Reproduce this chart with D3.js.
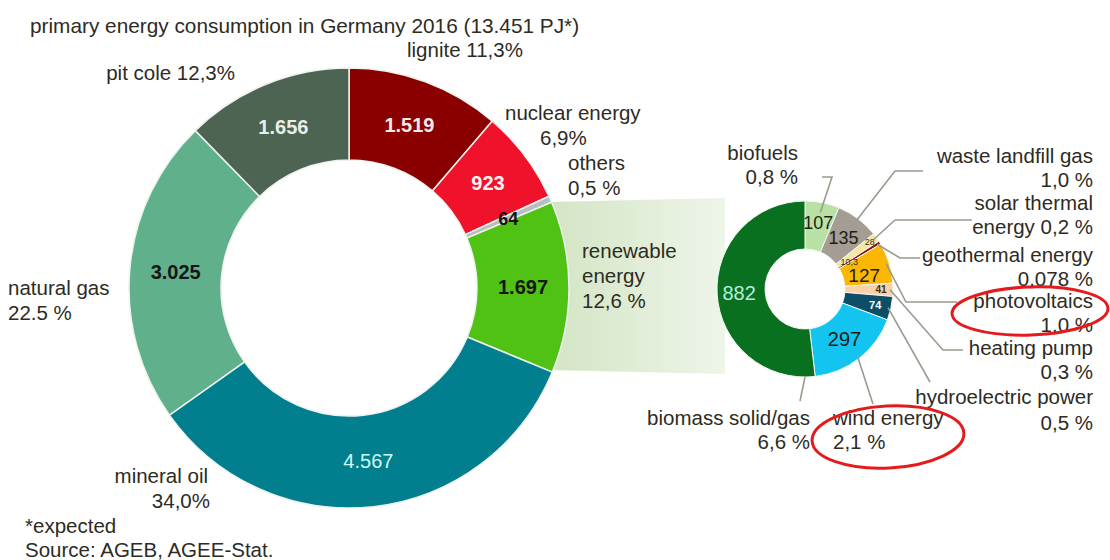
<!DOCTYPE html>
<html>
<head>
<meta charset="utf-8">
<script src="https://cdn.jsdelivr.net/npm/d3@7"></script>
<style>
  body { margin: 0; background: #fff; }
  svg { display: block; font-family: "Liberation Sans", Arial, sans-serif; }
</style>
</head>
<body>
<svg id="chart" width="1110" height="560"></svg>
<script>
// primary energy 2016, PJ
const mainNames  = ["lignite", "nuclear energy", "others", "renewable energy", "mineral oil", "natural gas", "pit cole"];
const mainValues = [1519, 923, 64, 1697, 4567, 3025, 1656];
const mainShares = ["11,3%", "6,9%", "0,5 %", "12,6 %", "34,0%", "22.5 %", "12,3%"];
const mainColors = ["#8a0000", "#f0122b", "#b6bebe", "#4fc214", "#017f8f", "#61b08c", "#4c6451"];

// renewables split, PJ
const renNames  = ["biofuels", "waste landfill gas", "solar thermal energy", "geothermal energy", "photovoltaics",
                   "heating pump", "hydroelectric power", "wind energy", "biomass solid/gas"];
const renValues = [107, 135, 28, 10.3, 127, 41, 74, 297, 882];
const renShares = ["0,8 %", "1,0 %", "0,2 %", "0,078 %", "1,0 %", "0,3 %", "0,5 %", "2,1 %", "6,6 %"];
const renColors = ["#b8e2a4", "#a49d93", "#f5e6a4", "#8b1212", "#fbb704", "#f9d1a8", "#0b4e66", "#13c3f0", "#08701f"];

const de = d3.formatLocale({decimal: ",", thousands: ".", grouping: [3], currency: ["", "€"]});
const fmtInt = de.format(",d");
const fmtNum = v => Number.isInteger(v) ? fmtInt(v) : de.format(",.1f")(v);

const svg = d3.select("#chart");
const ink = "#2e2b1f";
const labelSize = "20.5px";

// band that links the renewable slice to the small donut
const grad = svg.append("defs").append("linearGradient")
  .attr("id", "band").attr("x1", 0).attr("x2", 1).attr("y1", 0).attr("y2", 0);
grad.append("stop").attr("offset", "0%").attr("stop-color", "#d3e5c4");
grad.append("stop").attr("offset", "100%").attr("stop-color", "#eef5e9");
svg.append("path")
  .attr("d", "M548,202 L725,198 L725,374 L548,370 Z")
  .attr("fill", "url(#band)");

// ---------- main donut ----------
const M = {cx: 349, cy: 288, r0: 128, r1: 220};
const mainPie = d3.pie().sort(null).value(d => d.value);
const mainData = mainPie(mainNames.map((n, i) => ({name: n, value: mainValues[i], share: mainShares[i], color: mainColors[i]})));
const mainArc = d3.arc().innerRadius(M.r0).outerRadius(M.r1);
const mainMid = d3.arc().innerRadius((M.r0 + M.r1) / 2).outerRadius((M.r0 + M.r1) / 2);

const gm = svg.append("g").attr("transform", `translate(${M.cx},${M.cy})`);
gm.selectAll("path").data(mainData).enter().append("path")
  .attr("d", mainArc)
  .attr("fill", d => d.data.color)
  .attr("stroke", "#eef3ee").attr("stroke-width", 1.5);

const mainNumStyle = {
  "lignite": {fill: "#f3e9e9", weight: "bold"},
  "nuclear energy": {fill: "#fff2f2", weight: "bold"},
  "others": {fill: "#151515", weight: "bold", size: 18},
  "renewable energy": {fill: "#151515", weight: "bold"},
  "mineral oil": {fill: "#cdfbf3", weight: "normal"},
  "natural gas": {fill: "#151515", weight: "bold"},
  "pit cole": {fill: "#eaeee8", weight: "bold"}
};
gm.selectAll("text.num").data(mainData).enter().append("text")
  .attr("class", "num")
  .attr("transform", d => {
    const [x, y] = mainMid.centroid(d);
    return `translate(${x},${y + 7})`;
  })
  .attr("text-anchor", "middle")
  .style("font-size", d => (mainNumStyle[d.data.name].size || 20) + "px")
  .style("font-weight", d => mainNumStyle[d.data.name].weight)
  .attr("fill", d => mainNumStyle[d.data.name].fill)
  .text(d => fmtInt(d.data.value));

// outside labels of the main donut
const mainLabelPos = {
  "lignite":          {x: 407, y: 57,  anchor: "start", lines: d => [d.name + " " + d.share]},
  "nuclear energy":   {x: 505, y: 120, anchor: "start", lines: d => [d.name, d.share], indent: [0, 35]},
  "others":           {x: 568, y: 170, anchor: "start", lines: d => [d.name, d.share]},
  "renewable energy": {x: 582, y: 258, anchor: "start", lines: d => ["renewable", "energy", d.share]},
  "mineral oil":      {x: 208, y: 483, anchor: "end",   lines: d => [d.name, d.share], indent: [0, 2]},
  "natural gas":      {x: 8,   y: 295, anchor: "start", lines: d => [d.name, d.share]},
  "pit cole":         {x: 235, y: 80,  anchor: "end",   lines: d => [d.name + " " + d.share]}
};

function drawLabel(sel, pos, datum, lh) {
  const t = sel.append("text")
    .attr("text-anchor", pos.anchor)
    .attr("fill", ink)
    .style("font-size", labelSize);
  pos.lines(datum).forEach((line, k) => {
    t.append("tspan")
      .attr("x", pos.x + (pos.indent ? pos.indent[k] : 0))
      .attr("y", pos.y + k * lh)
      .text(line);
  });
}
mainData.forEach(d => drawLabel(svg, mainLabelPos[d.data.name], d.data, 25));

// ---------- renewables donut ----------
const R = {cx: 805, cy: 289, r0: 40, r1: 88};
const renPie = d3.pie().sort(null).value(d => d.value);
const renData = renPie(renNames.map((n, i) => ({name: n, value: renValues[i], share: renShares[i], color: renColors[i]})));
const renArc = d3.arc().innerRadius(R.r0).outerRadius(R.r1);

const gr = svg.append("g").attr("transform", `translate(${R.cx},${R.cy})`);
gr.selectAll("path").data(renData).enter().append("path")
  .attr("d", renArc)
  .attr("fill", d => d.data.color)
  .attr("stroke", "#f4f7f2").attr("stroke-width", 1);

// number labels: radius and font per slice
const renNumStyle = {
  "biofuels":             {r: 68, size: 18, fill: "#1e1e14"},
  "waste landfill gas":   {r: 64, size: 18, fill: "#1e1e14"},
  "solar thermal energy": {r: 80, size: 9,  fill: "#3a3020"},
  "geothermal energy":    {r: 52, size: 9,  fill: "#3a3020"},
  "photovoltaics":        {r: 62, size: 19, fill: "#1e1e14", dy: 5},
  "heating pump":         {r: 76, size: 10, fill: "#3a3020", weight: "bold"},
  "hydroelectric power":  {r: 72, size: 11, fill: "#ffffff", weight: "bold"},
  "wind energy":          {r: 64, size: 20, fill: "#1e1e14"},
  "biomass solid/gas":    {r: 66, size: 20, fill: "#b4eede"}
};
gr.selectAll("text.num").data(renData).enter().append("text")
  .attr("class", "num")
  .attr("transform", d => {
    const s = renNumStyle[d.data.name];
    const a = (d.startAngle + d.endAngle) / 2;
    return `translate(${Math.sin(a) * s.r},${-Math.cos(a) * s.r + s.size * 0.35 + (s.dy || 0)})`;
  })
  .attr("text-anchor", "middle")
  .style("font-size", d => renNumStyle[d.data.name].size + "px")
  .style("font-weight", d => renNumStyle[d.data.name].weight || "normal")
  .attr("fill", d => renNumStyle[d.data.name].fill)
  .text(d => fmtNum(d.data.value));

// labels + leader lines for the renewables
const renLabelPos = {
  "biofuels":             {x: 798,  y: 160, anchor: "end",   lines: d => [d.name, d.share], leader: [[832, 177], [822, 177]]},
  "waste landfill gas":   {x: 1093, y: 163, anchor: "end",   lines: d => [d.name, d.share], leader: [[895, 171], [923, 171]]},
  "solar thermal energy": {x: 1093, y: 210, anchor: "end",   lines: d => ["solar thermal", "energy " + d.share], leader: [[895, 220], [972, 220]]},
  "geothermal energy":    {x: 1093, y: 262, anchor: "end",   lines: d => [d.name, d.share], leader: [[900, 258], [920, 258]]},
  "photovoltaics":        {x: 1093, y: 308, anchor: "end",   lines: d => [d.name, d.share], leader: [[906, 302], [957, 302]]},
  "heating pump":         {x: 1093, y: 355, anchor: "end",   lines: d => [d.name, d.share], leader: [[943, 350], [963, 350]]},
  "hydroelectric power":  {x: 1093, y: 404, anchor: "end",   lines: d => [d.name, d.share], leader: [[930, 382]]},
  "wind energy":          {x: 833,  y: 425, anchor: "start", lines: d => [d.name, d.share], leader: [[873, 404]]},
  "biomass solid/gas":    {x: 810,  y: 425, anchor: "end",   lines: d => [d.name, d.share], leader: [[800, 401]]}
};

const edge = d3.arc().innerRadius(R.r1 - 3).outerRadius(R.r1 - 3);
const line = d3.line();
renData.forEach(d => {
  const pos = renLabelPos[d.data.name];
  let start;
  if (d.data.name === "biofuels") {
    const a = (d.startAngle + d.endAngle) / 2;
    start = [R.cx + Math.sin(a) * (R.r1 - 10), R.cy - Math.cos(a) * (R.r1 - 10)];
  } else if (d.data.name === "biomass solid/gas") {
    // leader leaves from the bottom of the donut
    start = [R.cx, R.cy + R.r1];
  } else {
    const [x, y] = edge.centroid(d);
    start = [R.cx + x, R.cy + y];
  }
  svg.append("path")
    .attr("d", line([start, ...pos.leader]))
    .attr("fill", "none")
    .attr("stroke", "#9a9a8e")
    .attr("stroke-width", 1.6);
  drawLabel(svg, pos, d.data, d.data.name === "hydroelectric power" ? 26 : 24);
});

// red hand-drawn highlight ellipses
const highlights = [
  {cx: 1030, cy: 311, rx: 78, ry: 24, rot: -2},
  {cx: 888, cy: 437, rx: 76, ry: 31, rot: -3}
];
svg.selectAll("ellipse.hl").data(highlights).enter().append("ellipse")
  .attr("class", "hl")
  .attr("transform", d => `translate(${d.cx},${d.cy}) rotate(${d.rot})`)
  .attr("rx", d => d.rx).attr("ry", d => d.ry)
  .attr("fill", "none")
  .attr("stroke", "#e41a1c")
  .attr("stroke-width", 3);

// title and footnotes
svg.append("text").attr("x", 30).attr("y", 33).attr("fill", ink)
  .style("font-size", "20.8px")
  .text("primary  energy consumption in Germany 2016 (13.451 PJ*)");
svg.append("text").attr("x", 25).attr("y", 533).attr("fill", ink)
  .style("font-size", labelSize).text("*expected");
svg.append("text").attr("x", 25).attr("y", 557).attr("fill", ink)
  .style("font-size", labelSize).text("Source: AGEB, AGEE-Stat.");
</script>
</body>
</html>
